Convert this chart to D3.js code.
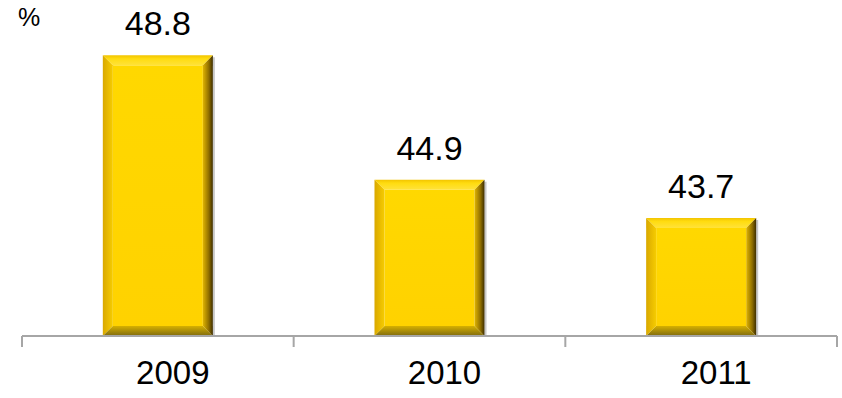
<!DOCTYPE html>
<html>
<head>
<meta charset="utf-8">
<script src="https://cdn.jsdelivr.net/npm/d3@7"></script>
<style>
  html, body { margin: 0; padding: 0; background: #fff; }
  svg { display: block; font-family: "Liberation Sans", Arial, sans-serif; }
</style>
</head>
<body>
<svg id="chart" width="842" height="398"></svg>
<script>
const years = ["2009", "2010", "2011"];
const values = [48.8, 44.9, 43.7];
const unitLabel = "%";
const valueDomain = [40, 50];

const W = 842, H = 398;
const margin = { left: 22, right: 5, top: 17, bottom: 62 };
const svg = d3.select("#chart");

const x = d3.scaleBand()
  .domain(years)
  .range([margin.left, W - margin.right])
  .paddingInner(0.595)
  .paddingOuter(0.2975);

const y = d3.scaleLinear()
  .domain(valueDomain)
  .range([H - margin.bottom, margin.top]);

const defs = svg.append("defs");
function grad(id, x1, y1, x2, y2, stops) {
  const g = defs.append("linearGradient").attr("id", id)
    .attr("x1", x1).attr("y1", y1).attr("x2", x2).attr("y2", y2);
  stops.forEach(([o, c]) => g.append("stop").attr("offset", o).attr("stop-color", c));
}
grad("bvTop", 0, 0, 0, 1, [[0, "#F2C400"], [0.35, "#FFDC10"], [1, "#FFE23A"]]);
grad("bvLeft", 0, 0, 1, 0, [[0, "#D9A800"], [1, "#F6CC00"]]);
grad("bvRight", 0, 0, 1, 0, [[0, "#E0B400"], [0.6, "#8F6E00"], [1, "#3E2E00"]]);
grad("bvBottom", 0, 0, 0, 1, [[0, "#D6B000"], [1, "#7E6A10"]]);
grad("face", 0, 0, 0, 1, [[0, "#FFD800"], [1, "#FFD200"]]);

const bev = 10;
const bars = svg.append("g").selectAll("g")
  .data(years.map((yr, i) => ({ yr, v: values[i] })))
  .join("g");

bars.each(function (d) {
  const g = d3.select(this);
  const x0 = x(d.yr), x1 = x0 + x.bandwidth();
  const y0 = y(d.v), y1 = y(valueDomain[0]);
  const b = Math.min(bev, (y1 - y0) / 2);
  // soft shadow on the right edge
  g.append("rect").attr("x", x1).attr("y", y0 + 2).attr("width", 2).attr("height", y1 - y0 - 2)
    .attr("fill", "#c8c8c8");
  g.append("rect").attr("x", x0 + b).attr("y", y0 + b)
    .attr("width", x1 - x0 - 2 * b).attr("height", y1 - y0 - 2 * b)
    .attr("fill", "url(#face)");
  const poly = (pts, fill) => g.append("polygon")
    .attr("points", pts.map(p => p.join(",")).join(" ")).attr("fill", fill);
  poly([[x0, y0], [x1, y0], [x1 - b, y0 + b], [x0 + b, y0 + b]], "url(#bvTop)");
  poly([[x0, y0], [x0 + b, y0 + b], [x0 + b, y1 - b], [x0, y1]], "url(#bvLeft)");
  poly([[x0, y1], [x0 + b, y1 - b], [x1 - b, y1 - b], [x1, y1]], "url(#bvBottom)");
  poly([[x1, y0], [x1, y1], [x1 - b, y1 - b], [x1 - b, y0 + b]], "url(#bvRight)");
});

// value labels
svg.append("g").selectAll("text")
  .data(years.map((yr, i) => ({ yr, v: values[i] })))
  .join("text")
  .attr("x", d => x(d.yr) + x.bandwidth() / 2)
  .attr("y", d => y(d.v) - 20)
  .attr("text-anchor", "middle")
  .attr("font-size", 34)
  .attr("fill", "#000")
  .text(d => d3.format(".1f")(d.v));

// category axis
const axisY = y(valueDomain[0]);
const axisG = svg.append("g");
const xr = x.range();
axisG.append("line").attr("x1", xr[0]).attr("x2", xr[1]).attr("y1", axisY).attr("y2", axisY)
  .attr("stroke", "#a6a6a6").attr("stroke-width", 2);
const tickXs = years.map(yr => x(yr) - x.step() * x.paddingInner() / 2);
tickXs[0] = xr[0];
tickXs.push(xr[1]);
axisG.selectAll("line.tick").data(tickXs).join("line").attr("class", "tick")
  .attr("x1", d => d).attr("x2", d => d).attr("y1", axisY).attr("y2", axisY + 11)
  .attr("stroke", "#a6a6a6").attr("stroke-width", 2);
axisG.selectAll("text").data(years).join("text")
  .attr("x", d => x(d) + x.bandwidth() / 2 + 15)
  .attr("y", 384)
  .attr("text-anchor", "middle")
  .attr("font-size", 33)
  .attr("fill", "#000")
  .text(d => d);

svg.append("text").attr("x", 18).attr("y", 26).attr("font-size", 25).attr("fill", "#000").text(unitLabel);
</script>
</body>
</html>
